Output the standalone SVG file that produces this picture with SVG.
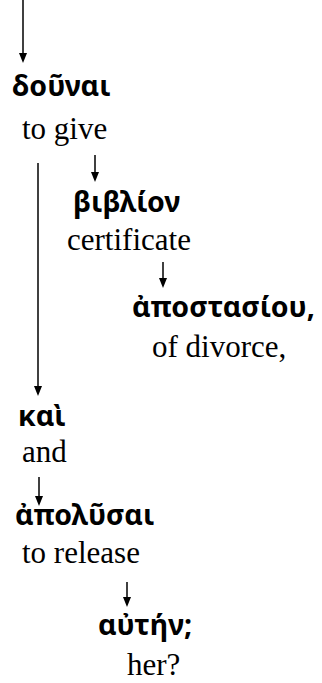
<svg xmlns="http://www.w3.org/2000/svg" width="322" height="683" viewBox="0 0 322 683">
<style>
.g{font-family:"Noto Sans","DejaVu Sans",sans-serif;font-weight:bold;font-size:28.5px;fill:#000}
.e{font-family:"Liberation Serif","Times New Roman",serif;font-size:31px;fill:#000}
.c{stroke:#000;stroke-width:1.5;fill:none}
.h{fill:#000}
</style>
<rect width="322" height="683" fill="#fff"/>
<g id="connectors">
<line class="c" x1="23" y1="0" x2="23" y2="53"/><path class="h" d="M19,53 L27,53 L23,63 Z"/>
<line class="c" x1="95" y1="155" x2="95" y2="172"/><path class="h" d="M91,172 L99,172 L95,182 Z"/>
<line class="c" x1="38" y1="163" x2="38" y2="386"/><path class="h" d="M34,386 L42,386 L38,396 Z"/>
<line class="c" x1="163" y1="262" x2="163" y2="278"/><path class="h" d="M159,278 L167,278 L163,288 Z"/>
<line class="c" x1="39" y1="477" x2="39" y2="496"/><path class="h" d="M35,496 L43,496 L39,506 Z"/>
<line class="c" x1="127" y1="582" x2="127" y2="597"/><path class="h" d="M123,597 L131,597 L127,607 Z"/>
</g>
<g id="n1"><text class="g" x="12" y="96">δοῦναι</text><text class="e" x="22" y="139">to give</text></g>
<g id="n2"><text class="g" x="73" y="212">βιβλίον</text><text class="e" x="67" y="250">certificate</text></g>
<g id="n3"><text class="g" x="132" y="317">ἀποστασίου,</text><text class="e" x="152" y="357">of divorce,</text></g>
<g id="n4"><text class="g" x="18" y="426">καὶ</text><text class="e" x="22" y="462">and</text></g>
<g id="n5"><text class="g" x="15" y="525">ἀπολῦσαι</text><text class="e" x="22" y="563">to release</text></g>
<g id="n6"><text class="g" x="98" y="635">αὐτήν;</text><text class="e" x="127" y="675">her?</text></g>
</svg>
